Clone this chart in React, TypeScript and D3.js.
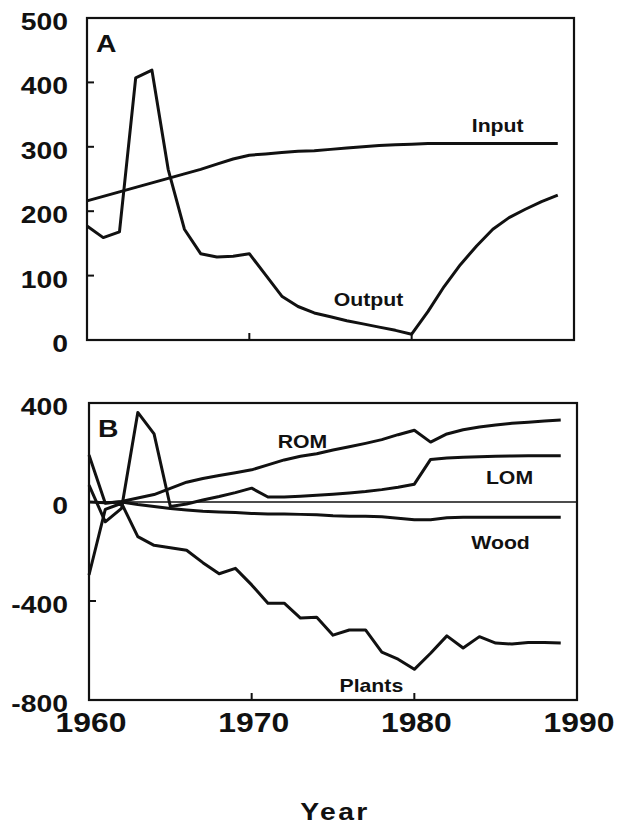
import React from "react";
import * as d3 from "d3";

// annual values, 1960-1989
const years = [
  1960, 1961, 1962, 1963, 1964, 1965, 1966, 1967, 1968, 1969,
  1970, 1971, 1972, 1973, 1974, 1975, 1976, 1977, 1978, 1979,
  1980, 1981, 1982, 1983, 1984, 1985, 1986, 1987, 1988, 1989,
];

// panel A
const inputA = [216, 223, 230, 237, 244, 251, 258, 265, 273, 281, 287, 289, 291, 293, 294, 296, 298, 300, 302, 303, 304, 305, 305, 305, 305, 305, 305, 305, 305, 305];
const outputA = [177, 159, 168, 407, 419, 265, 172, 134, 129, 130, 134, 101, 68, 52, 42, 36, 30, 25, 20, 15, 9, 44, 83, 117, 146, 172, 190, 203, 215, 225];

// panel B
const rom = [190, -5, 2, 16, 30, 55, 80, 95, 107, 118, 130, 150, 170, 185, 195, 210, 223, 237, 252, 272, 290, 242, 275, 292, 303, 311, 318, 322, 327, 331];
const lom = [68, -80, -26, 362, 275, -18, -8, 8, 22, 38, 56, 20, 20, 23, 27, 31, 36, 42, 50, 60, 72, 172, 178, 181, 183, 185, 186, 187, 187, 187];
const wood = [0, -3, 0, -10, -18, -26, -32, -37, -40, -42, -46, -48, -48, -50, -52, -56, -58, -58, -60, -66, -72, -72, -64, -62, -62, -62, -62, -62, -62, -62];
const plants = [-295, -30, -5, -140, -175, -185, -195, -245, -290, -268, -335, -409, -409, -469, -466, -538, -517, -517, -607, -635, -676, -611, -541, -590, -544, -570, -574, -568, -568, -570];

const ticksA = [0, 100, 200, 300, 400, 500];
const ticksB = [400, 0, -400, -800];
const yearTicks = [1960, 1970, 1980, 1990];

// label anchors in data units [year, value]
const labelsA = [
  { text: "Input", at: [1983.7, 323] },
  { text: "Output", at: [1975.2, 53] },
];
const labelsB = [
  { text: "ROM", at: [1971.6, 218] },
  { text: "LOM", at: [1984.4, 73] },
  { text: "Wood", at: [1983.5, -190] },
  { text: "Plants", at: [1975.4, -768] },
];

const FONT = "'Liberation Sans', Arial, Helvetica, sans-serif";
const SX = 1.18;

function Txt({ x, y, size, anchor = "start", children, spacing = 0 }) {
  return (
    <g transform={`translate(${x},${y}) scale(${SX},1)`}>
      <text
        fontFamily={FONT}
        fontWeight="bold"
        fontSize={size}
        textAnchor={anchor}
        letterSpacing={spacing}
        fill="#111"
      >
        {children}
      </text>
    </g>
  );
}

function Panel({ x, y, series, labels, yTicks, innerTicks, xInner, letter, zero }) {
  const line = d3
    .line<number>()
    .x((_, i) => x(years[i]))
    .y((d) => y(d))
    .curve(d3.curveLinear);
  const [x0, x1] = x.range();
  const [y0, y1] = y.range();
  return (
    <g>
      {zero && (
        <line x1={x0} x2={x1} y1={y(0)} y2={y(0)} stroke="#111" strokeWidth={1.6} />
      )}
      {series.map((s, i) => (
        <path
          key={i}
          d={line(s) || ""}
          fill="none"
          stroke="#111"
          strokeWidth={3}
          strokeLinejoin="round"
        />
      ))}
      <rect x={x0} y={y1} width={x1 - x0} height={y0 - y1} fill="none" stroke="#111" strokeWidth={2.2} />
      {innerTicks.map((t) => (
        <line key={"y" + t} x1={x0} x2={x0 + 7} y1={y(t)} y2={y(t)} stroke="#111" strokeWidth={2} />
      ))}
      {xInner.map((t) => (
        <line key={"x" + t} x1={x(t)} x2={x(t)} y1={y0} y2={y0 - 7} stroke="#111" strokeWidth={2} />
      ))}
      {yTicks.map((t) => (
        <Txt key={"l" + t} x={68} y={y(t) + 12} size={24} anchor="end">
          {String(t)}
        </Txt>
      ))}
      <Txt x={x0 + 9} y={y1 + 34} size={24}>
        {letter}
      </Txt>
      {labels.map((l) => (
        <Txt key={l.text} x={x(l.at[0])} y={y(l.at[1])} size={18}>
          {l.text}
        </Txt>
      ))}
    </g>
  );
}

export default function App() {
  const xA = d3.scaleLinear().domain([1960, 1990]).range([87, 574]);
  const yA = d3.scaleLinear().domain([0, 500]).range([340, 18]);
  const xB = d3.scaleLinear().domain([1960, 1990]).range([89, 577]);
  const yB = d3.scaleLinear().domain([-800, 400]).range([700, 403]);

  return (
    <svg
      width={617}
      height={824}
      style={{ position: "absolute", left: 0, top: 0, background: "#fff" }}
    >
      <rect width={617} height={824} fill="#fff" />
      <Panel
        x={xA}
        y={yA}
        series={[inputA, outputA]}
        labels={labelsA}
        yTicks={ticksA}
        innerTicks={[100, 200, 300, 400]}
        xInner={[1970, 1980]}
        letter="A"
      />
      <Panel
        x={xB}
        y={yB}
        series={[rom, lom, wood, plants]}
        labels={labelsB}
        yTicks={ticksB}
        innerTicks={[-400]}
        xInner={[1970, 1980]}
        letter="B"
        zero
      />
      {yearTicks.map((t) => (
        <Txt key={t} x={xB(t) + 2} y={732} size={27} anchor="middle">
          {String(t)}
        </Txt>
      ))}
      <Txt x={335} y={820} size={24} anchor="middle" spacing={2}>
        Year
      </Txt>
    </svg>
  );
}
